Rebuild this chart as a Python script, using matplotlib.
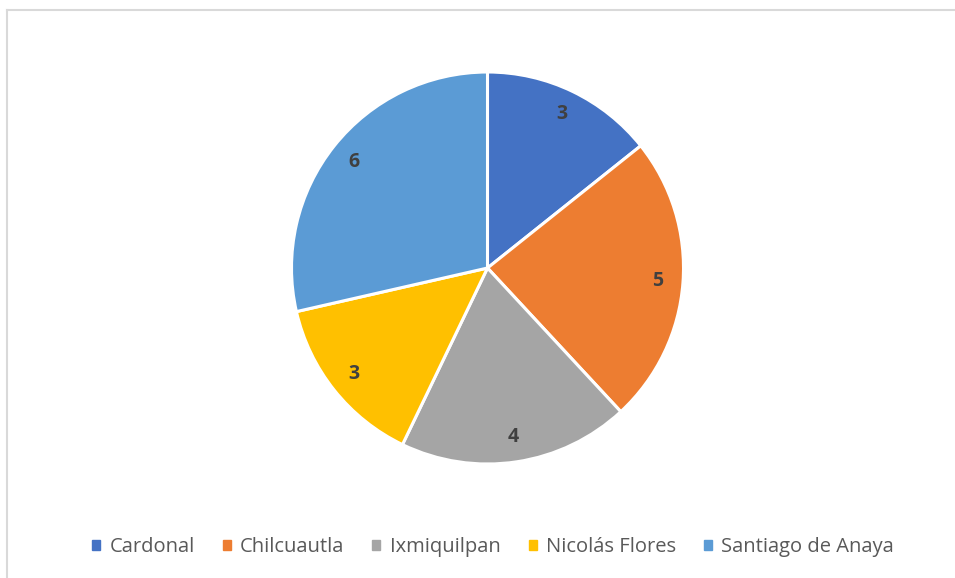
import matplotlib
matplotlib.use("Agg")
import matplotlib.pyplot as plt
from matplotlib.lines import Line2D
from matplotlib.patches import Rectangle

categories = ["Cardonal", "Chilcuautla", "Ixmiquilpan", "Nicolás Flores", "Santiago de Anaya"]
values = [3, 5, 4, 3, 6]
colors = ["#4472C4", "#ED7D31", "#A5A5A5", "#FFC000", "#5B9BD5"]

plt.rcParams['font.family'] = ['Open Sans', 'DejaVu Sans']

W, H = 955, 578
fig = plt.figure(figsize=(W / 100, H / 100), dpi=100)
fig.patch.set_facecolor("white")

# chart border (top and left visible)
fig.add_artist(Line2D([7 / W, 7 / W], [0, 1 - 10 / H], transform=fig.transFigure, color="#D9D9D9", lw=1.5))
fig.add_artist(Line2D([7 / W, 1], [1 - 10 / H, 1 - 10 / H], transform=fig.transFigure, color="#D9D9D9", lw=1.5))

cx, cy, r = 487.5, 268, 196
ax = fig.add_axes([(cx - r) / W, 1 - (cy + r) / H, 2 * r / W, 2 * r / H])
wedges, texts, autotexts = ax.pie(
    values, colors=colors, startangle=90, counterclock=False,
    autopct=lambda p: f"{round(p * sum(values) / 100):d}", pctdistance=0.87,
    wedgeprops=dict(edgecolor="white", linewidth=2.2),
    textprops=dict(color="#404040", fontsize=14, fontweight="bold"),
)
ax.set_aspect("equal")
ax.set_xlim(-1, 1)
ax.set_ylim(-1, 1)

handles = [Rectangle((0, 0), 1, 1, color=c) for c in colors]
leg = fig.legend(handles, categories, loc="center", bbox_to_anchor=(493 / W, 1 - 547 / H),
                 ncol=5, frameon=False, fontsize=14.5, handlelength=0.4, handleheight=0.4,
                 handletextpad=0.45, columnspacing=1.4)
for t in leg.get_texts():
    t.set_color("#595959")

fig.savefig("out.png", dpi=100, facecolor="white")
